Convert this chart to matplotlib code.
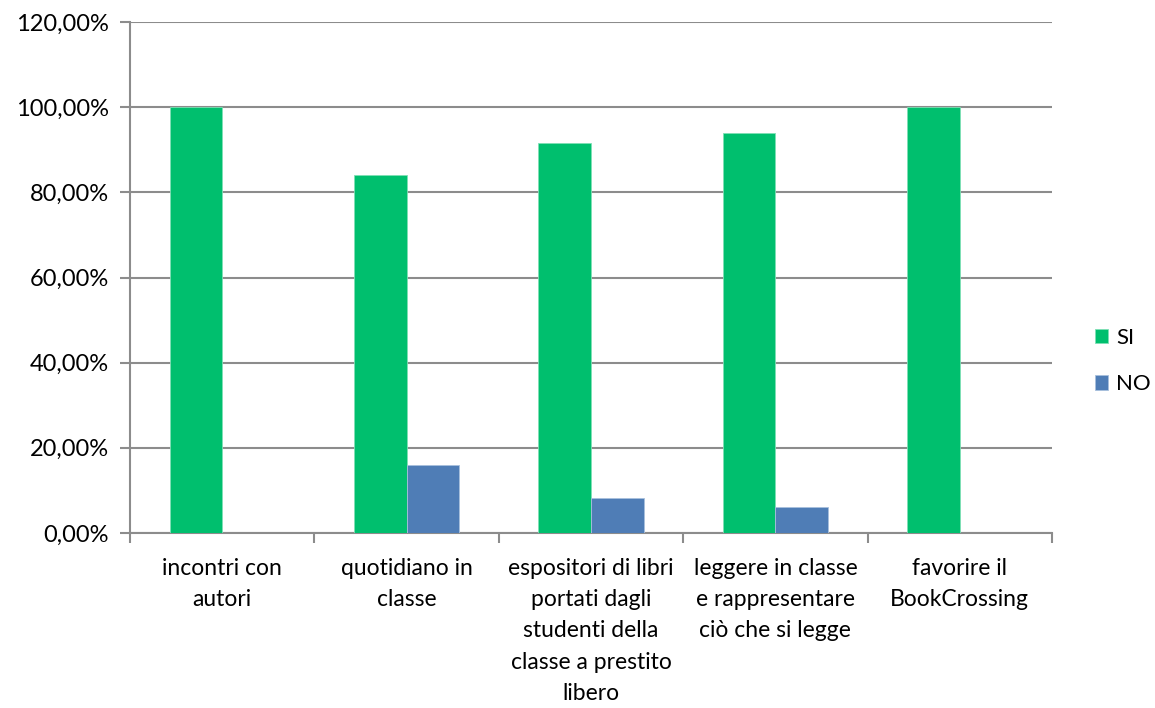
import matplotlib.pyplot as plt
import numpy as np
from matplotlib.ticker import FuncFormatter

categorie = ["incontri con\nautori", "quotidiano in\nclasse",
             "espositori di libri\nportati dagli\nstudenti della\nclasse a prestito\nlibero",
             "leggere in classe\ne rappresentare\nciò che si legge",
             "favorire il\nBookCrossing"]
si = [100.0, 84.0, 91.67, 94.0, 100.0]
no = [0.0, 16.0, 8.33, 6.0, 0.0]

plt.rcParams['font.family'] = ['Lato', 'DejaVu Sans']

fig = plt.figure(figsize=(11.55, 7.08), dpi=100)
ax = fig.add_axes([0.1126, 0.2472, 0.7982, 0.7217])

x = np.arange(len(categorie))
w = 1 / 3.5
ax.bar(x - w / 2, si, w, color='#00BF6E', edgecolor='#7fe0b5', linewidth=0.6, label='SI', zorder=3)
ax.bar(x + w / 2, no, w, color='#4F7DB6', edgecolor='#a8c0dd', linewidth=0.6, label='NO', zorder=3)

ax.set_xlim(-0.5, len(categorie) - 0.5)
ax.set_ylim(0, 120)
ax.set_yticks(range(0, 121, 20))
ax.yaxis.set_major_formatter(FuncFormatter(lambda v, p: f'{v:.2f}'.replace('.', ',') + '%'))
ax.grid(axis='y', color='#8c8c8c', linewidth=1.5, zorder=0)

ax.set_xticks(np.arange(-0.5, len(categorie), 1))
ax.set_xticklabels([])
ax.set_xticks(x, minor=True)
ax.set_xticklabels(categorie, minor=True, fontsize=16.5, linespacing=1.6, va='top')
ax.tick_params(axis='x', which='minor', length=0, pad=18)
ax.tick_params(axis='x', which='major', length=7, width=1.5, color='#8c8c8c', direction='out')
ax.tick_params(axis='y', length=7, width=1.5, color='#8c8c8c', labelsize=17, pad=8)

for s in ['top', 'right']:
    ax.spines[s].set_visible(False)
for s in ['left', 'bottom']:
    ax.spines[s].set_color('#8c8c8c')
    ax.spines[s].set_linewidth(1.5)

fig.legend(*ax.get_legend_handles_labels(), loc='center left',
           bbox_to_anchor=(1095 / 1155, (708 - 361) / 708), frameon=False, fontsize=16,
           borderpad=0, borderaxespad=0,
           handlelength=0.6, handleheight=0.6, handletextpad=0.35, labelspacing=1.2)

fig.savefig('out.png', dpi=100)
